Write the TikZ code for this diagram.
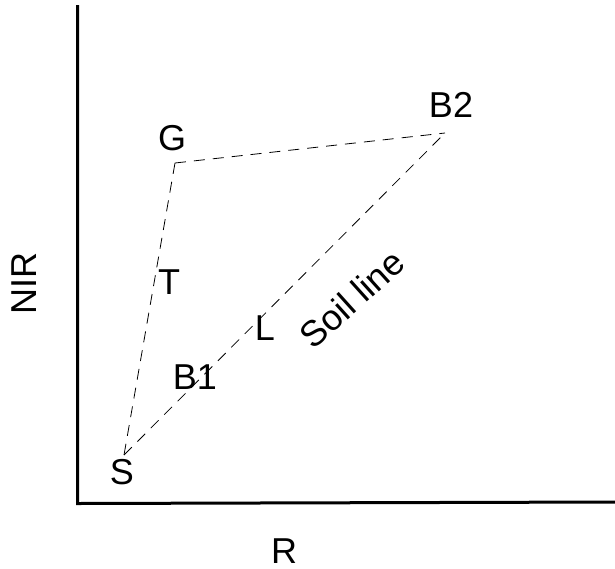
\documentclass[tikz,border=0pt]{standalone}
\usepackage{fontspec}
\setmainfont{Liberation Sans}
\begin{document}
\begin{tikzpicture}[x=1pt,y=-1pt,
  lbl/.style={inner sep=0pt,font=\fontsize{36}{40}\selectfont},
  axis/.style={line width=3pt},
  dline/.style={line width=0.8pt,dash pattern=on 11pt off 8pt}]
\useasboundingbox (0,0) rectangle (615,568);
\coordinate (O) at (77.5,502);
\coordinate (Ytop) at (77.5,5);
\coordinate (Xend) at (615,502);
\draw[axis] (Ytop) -- (77.5,503.5) -- (Xend);
\coordinate (S) at (124,455);
\coordinate (G) at (175,163);
\coordinate (B2) at (445,133);
\draw[dline] (G) -- (B2);
\draw[dline] (G) -- (S);
\draw[dline] (S) -- (B2);
\node[lbl] (lG) at (172,138) {G};
\node[lbl] (lB2) at (451,105) {B2};
\node[lbl] (lS) at (122,472) {S};
\node[lbl] (lT) at (169,282) {T};
\node[lbl] (lB1) at (195,377) {B1};
\node[lbl] (lL) at (265,328) {L};
\node[lbl,rotate=42] (lSoil) at (352,299) {Soil line};
\node[lbl,rotate=90] (lNIR) at (24,283) {NIR};
\node[lbl] (lR) at (284,551) {R};
\end{tikzpicture}
\end{document}
